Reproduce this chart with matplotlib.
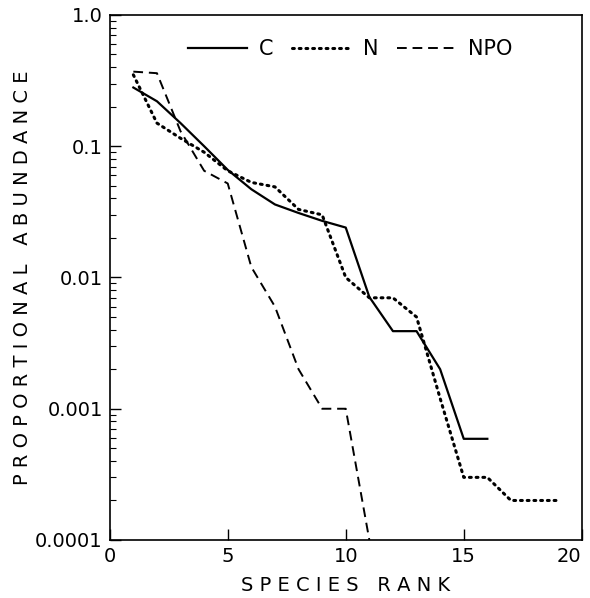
import matplotlib.pyplot as plt
from matplotlib.ticker import FixedLocator, LogLocator, NullFormatter

# ranks and proportional abundances
rank_c = [1, 2, 3, 4, 5, 6, 7, 8, 9, 10, 11, 12, 13, 14, 15, 16]
abund_c = [0.28, 0.22, 0.15, 0.10, 0.066, 0.047, 0.036, 0.031, 0.027, 0.024,
           0.0071, 0.0039, 0.0039, 0.002, 0.00059, 0.00059]

rank_n = [1, 2, 3, 4, 5, 6, 7, 8, 9, 10, 11, 12, 13, 14, 15, 16, 17, 18, 19]
abund_n = [0.35, 0.15, 0.115, 0.09, 0.065, 0.053, 0.049, 0.033, 0.03, 0.01,
           0.007, 0.007, 0.005, 0.0012, 0.0003, 0.0003, 0.0002, 0.0002, 0.0002]

rank_npo = [1, 2, 3, 4, 5, 6, 7, 8, 9, 10, 11]
abund_npo = [0.37, 0.36, 0.13, 0.065, 0.052, 0.012, 0.006, 0.002, 0.001, 0.001, 0.0001]

xticks = [0, 5, 10, 15, 20]
yticks = [0.0001, 0.001, 0.01, 0.1, 1.0]
ytick_labels = ['0.0001', '0.001', '0.01', '0.1', '1.0']

plt.rcParams['font.family'] = 'DejaVu Sans'

fig = plt.figure(figsize=(5.9, 5.98), dpi=100)
ax = fig.add_axes([0.186, 0.097, 0.800, 0.878])

ax.plot(rank_c, abund_c, color='black', lw=1.6, ls='-', label='C')
ax.plot(rank_n, abund_n, color='black', lw=2.2, ls=(0, (0.6, 1.6)),
        dash_capstyle='round', label='N')
ax.plot(rank_npo, abund_npo, color='black', lw=1.4, ls=(0, (5, 3)), label='NPO')

ax.set_yscale('log')
ax.set_xlim(0, 20)
ax.set_ylim(0.0001, 1.0)

ax.xaxis.set_major_locator(FixedLocator(xticks))
ax.set_xticklabels([str(t) for t in xticks], fontsize=14)
ax.get_xticklabels()[-1].set_ha('right')
ax.yaxis.set_major_locator(FixedLocator(yticks))
ax.set_yticklabels(ytick_labels, fontsize=14)
ax.yaxis.set_minor_locator(LogLocator(base=10, subs=range(2, 10)))
ax.yaxis.set_minor_formatter(NullFormatter())

ax.tick_params(axis='both', which='major', direction='in', length=8, width=1, pad=5)
ax.tick_params(axis='y', which='minor', direction='in', length=4, width=0.8)
for sp in ax.spines.values():
    sp.set_linewidth(1.2)

ax.set_xlabel('S P E C I E S   R A N K', fontsize=14)
ax.xaxis.set_label_coords(0.5, -0.068)
ax.set_ylabel('P R O P O R T I O N A L   A B U N D A N C E', fontsize=14)
ax.yaxis.set_label_coords(-0.165, 0.5)

ax.legend(loc='upper left', bbox_to_anchor=(0.14, 0.978), ncol=3, frameon=False,
          fontsize=15, handlelength=2.8, columnspacing=0.9, handletextpad=0.6,
          borderaxespad=0.2)

fig.savefig('out.png', dpi=100)
